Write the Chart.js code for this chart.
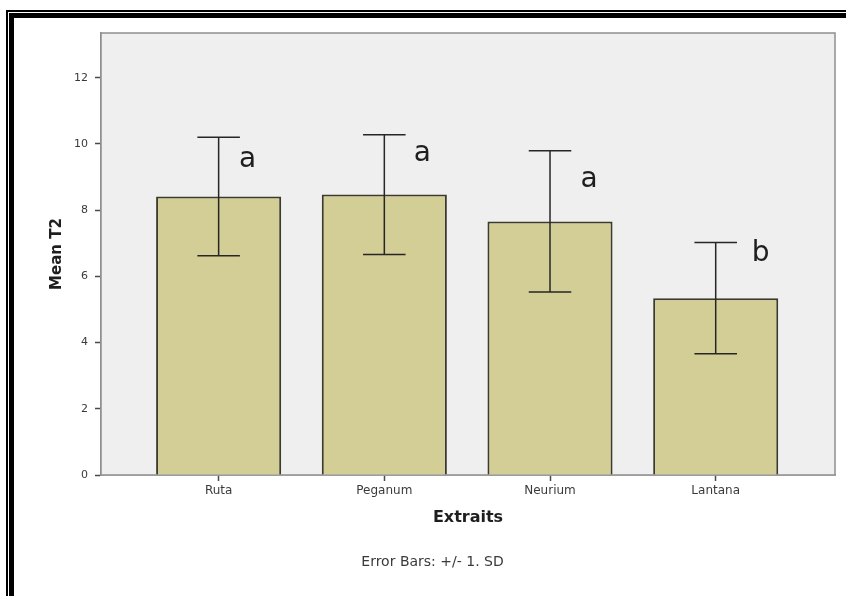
<!DOCTYPE html>
<html>
<head>
<meta charset="utf-8">
<script src="https://cdn.jsdelivr.net/npm/chart.js@4/dist/chart.umd.min.js"></script>
<style>
    body { margin: 0; background: #fff; }
    #wrap { position: relative; width: 846px; height: 596px; overflow: hidden; }
    #chart { position: absolute; left: 0; top: 0; }
    .frame-thin { position: absolute; left: 6px; top: 10px; width: 900px; height: 700px; border-left: 2px solid #000; border-top: 2px solid #000; }
    .frame-thick { position: absolute; left: 9px; top: 13px; width: 900px; height: 700px; border-left: 5px solid #000; border-top: 5px solid #000; }
</style>
</head>
<body>
<div id="wrap">
    <canvas id="chart" width="846" height="596"></canvas>
    <div class="frame-thin"></div>
    <div class="frame-thick"></div>
</div>
<script>
const extraits = ["Ruta", "Peganum", "Neurium", "Lantana"];
const meanT2 = [8.41, 8.47, 7.66, 5.34];
const sdT2 = [1.79, 1.81, 2.13, 1.68];
const groupLetters = ["a", "a", "a", "b"];
const yTicks = [0, 2, 4, 6, 8, 10, 12];

// letter nudges (px) from bar centre / top of error bar
const letterNudge = [[29, 30], [38, 26], [39, 36], [45, 18]];

const plotBox = {
    id: "plotBox",
    beforeDatasetsDraw(chart) {
        const { ctx, chartArea: a } = chart;
        ctx.save();
        ctx.fillStyle = "#efefef";
        ctx.fillRect(a.left, a.top, a.right - a.left, a.bottom - a.top);
        ctx.strokeStyle = "#8f8f8f";
        ctx.lineWidth = 1.5;
        ctx.strokeRect(a.left, a.top, a.right - a.left, a.bottom - a.top);
        ctx.restore();
    }
};

const errorBars = {
    id: "errorBars",
    afterDatasetsDraw(chart) {
        const { ctx, scales } = chart;
        const bars = chart.getDatasetMeta(0).data;
        ctx.save();
        ctx.strokeStyle = "#262626";
        ctx.lineWidth = 1.5;
        bars.forEach((bar, i) => {
            const x = bar.x;
            const half = bar.width * 0.17;
            const yHi = scales.y.getPixelForValue(meanT2[i] + sdT2[i]);
            const yLo = scales.y.getPixelForValue(meanT2[i] - sdT2[i]);
            ctx.beginPath();
            ctx.moveTo(x, yHi); ctx.lineTo(x, yLo);
            ctx.moveTo(x - half, yHi); ctx.lineTo(x + half, yHi);
            ctx.moveTo(x - half, yLo); ctx.lineTo(x + half, yLo);
            ctx.stroke();

            ctx.fillStyle = "#1e1e1e";
            ctx.font = "28px 'DejaVu Sans'";
            ctx.textAlign = "center";
            ctx.textBaseline = "alphabetic";
            ctx.fillText(groupLetters[i], x + letterNudge[i][0], yHi + letterNudge[i][1]);
        });
        ctx.restore();
    }
};

new Chart(document.getElementById("chart"), {
    type: "bar",
    data: {
        datasets: [
            {
                label: "Mean T2",
                data: meanT2.map((v, i) => ({ x: i, y: v })),
                backgroundColor: "#d3cd96",
                borderColor: "#3c3a2c",
                borderWidth: 2,
                categoryPercentage: 1,
                barPercentage: 0.755
            }
        ]
    },
    options: {
        responsive: false,
        animation: false,
        layout: { padding: { left: 30, right: 11, top: 33, bottom: 0 } },
        plugins: {
            legend: { display: false },
            tooltip: { enabled: false },
            title: {
                display: true,
                position: "bottom",
                text: "Error Bars: +/- 1. SD",
                color: "#3a3a3a",
                font: { family: "DejaVu Sans", size: 14, weight: "normal" },
                padding: { top: 4, bottom: 25.6 }
            }
        },
        scales: {
            x: {
                type: "linear",
                offset: false,
                min: -0.71,
                max: 3.72,
                afterBuildTicks: scale => {
                    scale.ticks = extraits.map((c, i) => ({ value: i }));
                },
                afterFit: scale => { scale.height = 74.6; },
                ticks: {
                    includeBounds: false,
                    autoSkip: false,
                    maxRotation: 0,
                    padding: 3,
                    color: "#3a3a3a",
                    font: { family: "DejaVu Sans", size: 12 },
                    callback: v => extraits[v] ?? ""
                },
                grid: { offset: false, drawOnChartArea: false, drawTicks: true, tickLength: 6, tickColor: "#4a4a4a", tickWidth: 1.5 },
                border: { display: true, color: "#8f8f8f", width: 1.5 },
                title: {
                    display: true,
                    text: "Extraits",
                    color: "#1e1e1e",
                    font: { family: "DejaVu Sans", size: 16, weight: "bold" },
                    padding: { top: 0, bottom: 22 }
                }
            },
            y: {
                min: 0,
                max: 13.35,
                afterBuildTicks: scale => {
                    scale.ticks = yTicks.map(v => ({ value: v }));
                },
                afterFit: scale => { scale.width = 71; },
                ticks: {
                    includeBounds: false,
                    padding: 7,
                    color: "#3a3a3a",
                    font: { family: "DejaVu Sans", size: 11 }
                },
                grid: { drawOnChartArea: false, drawTicks: true, tickLength: 6, tickColor: "#4a4a4a", tickWidth: 1.5 },
                border: { display: true, color: "#8f8f8f", width: 1.5 },
                title: {
                    display: true,
                    text: "Mean T2",
                    color: "#1e1e1e",
                    font: { family: "DejaVu Sans", size: 15, weight: "bold" },
                    padding: { top: 18, bottom: 0 }
                }
            }
        }
    },
    plugins: [plotBox, errorBars]
});
</script>
</body>
</html>
